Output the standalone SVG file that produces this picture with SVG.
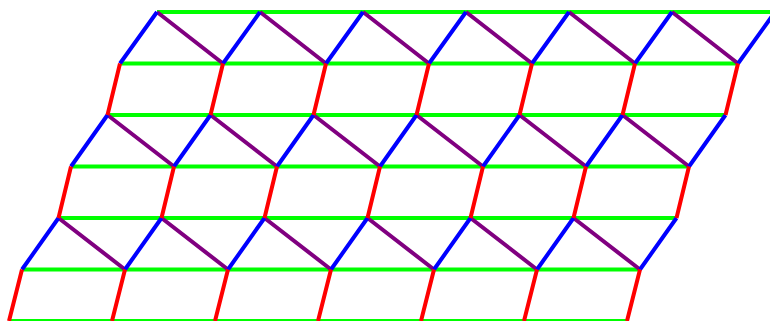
<svg xmlns="http://www.w3.org/2000/svg" width="770" height="321" viewBox="0 0 770 321">
<style>
.e{fill:none;stroke-width:4;stroke-linecap:butt;stroke-linejoin:round}
.g{stroke:#00ff00}
.b{stroke:#0000ff}
.p{stroke:#800080}
.r{stroke:#ff0000}
</style>
<rect width="770" height="321" fill="#ffffff"/>
<g id="connectors">
<path id="green" class="e g" d="M157 12H775 M120 63.5H738 M107.5 115H725.5 M71 166.5H689 M58.5 218H676.5 M22 269.5H640 M9 321H627"/>
<path id="purple" class="e p" d="M157 12L223 63.5 M260 12L326 63.5 M363 12L429 63.5 M466 12L532 63.5 M569 12L635 63.5 M672 12L738 63.5
M107.5 115L174 166.5 M210.5 115L277 166.5 M313.5 115L380 166.5 M416.5 115L483 166.5 M519.5 115L586 166.5 M622.5 115L689 166.5
M58.5 218L125 269.5 M161.5 218L228 269.5 M264.5 218L331 269.5 M367.5 218L434 269.5 M470.5 218L537 269.5 M573.5 218L640 269.5"/>
<path id="blue" class="e b" d="M120 63.5L157 12 M223 63.5L260 12 M326 63.5L363 12 M429 63.5L466 12 M532 63.5L569 12 M635 63.5L672 12 M738 63.5L775 12
M71 166.5L107.5 115 M174 166.5L210.5 115 M277 166.5L313.5 115 M380 166.5L416.5 115 M483 166.5L519.5 115 M586 166.5L622.5 115 M689 166.5L725.5 115
M22 269.5L58.5 218 M125 269.5L161.5 218 M228 269.5L264.5 218 M331 269.5L367.5 218 M434 269.5L470.5 218 M537 269.5L573.5 218 M640 269.5L676.5 218"/>
<path id="red" class="e r" d="M120 63.5L107.5 115 M223 63.5L210.5 115 M326 63.5L313.5 115 M429 63.5L416.5 115 M532 63.5L519.5 115 M635 63.5L622.5 115 M738 63.5L725.5 115
M71 166.5L58.5 218 M174 166.5L161.5 218 M277 166.5L264.5 218 M380 166.5L367.5 218 M483 166.5L470.5 218 M586 166.5L573.5 218 M689 166.5L676.5 218
M22 269.5L9 321 M125 269.5L112 321 M228 269.5L215 321 M331 269.5L318 321 M434 269.5L421 321 M537 269.5L524 321 M640 269.5L627 321"/>
</g>
</svg>
